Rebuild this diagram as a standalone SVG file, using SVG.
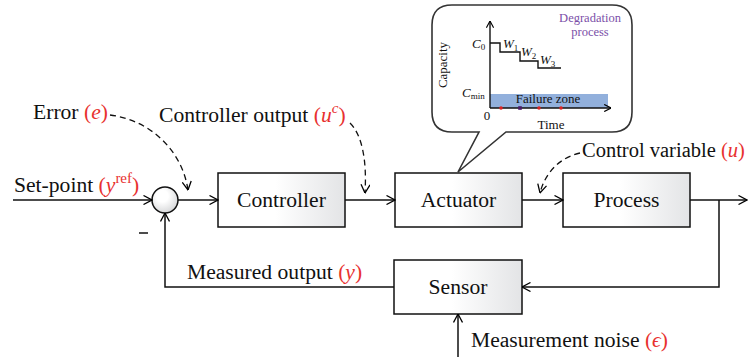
<svg xmlns="http://www.w3.org/2000/svg" width="749" height="357" viewBox="0 0 749 357">
<defs>
<linearGradient id="boxg" x1="0" y1="0" x2="1" y2="0">
<stop offset="0.45" stop-color="#ffffff"/>
<stop offset="1" stop-color="#e3e4e6"/>
</linearGradient>
<radialGradient id="circg" cx="0.4" cy="0.35" r="0.75">
<stop offset="0.3" stop-color="#ffffff"/>
<stop offset="1" stop-color="#cfd0d2"/>
</radialGradient>
<marker id="arr" viewBox="0 0 10 10" refX="9.5" refY="5" markerWidth="10" markerHeight="10" markerUnits="userSpaceOnUse" orient="auto">
<path d="M1,0.5 L9.5,5 L1,9.5" fill="none" stroke="#000" stroke-width="1.3" stroke-dasharray="none"/>
</marker>
<marker id="sarr" viewBox="0 0 10 10" refX="9.5" refY="5" markerWidth="8" markerHeight="8" markerUnits="userSpaceOnUse" orient="auto">
<path d="M1,0.5 L9.5,5 L1,9.5" fill="none" stroke="#000" stroke-width="1.4"/>
</marker>
</defs>
<style>
text{font-family:"Liberation Serif","DejaVu Serif",serif;fill:#111}
.lbl{font-size:21.6px}
.red{fill:#e8312f}
.it{font-style:italic}
.box{fill:url(#boxg);stroke:#111;stroke-width:1.5}
.ln{fill:none;stroke:#111;stroke-width:1.5;marker-end:url(#arr)}
.dash{fill:none;stroke:#111;stroke-width:1.3;stroke-dasharray:6,4;marker-end:url(#arr)}
.sm{font-size:13px}
.ax{fill:none;stroke:#111;stroke-width:1.4}
</style>

<g id="callout">
<path d="M452,5 H612 Q632,5 632,25 V112 Q632,132 612,132 H506 L458,172 L479,132 H452 Q432,132 432,112 V25 Q432,5 452,5 Z" fill="#fff" stroke="#333" stroke-width="1.6"/>
<rect x="490" y="94" width="118" height="14" fill="#92b0dc"/>
<path class="ax" d="M490,108 V21" marker-end="url(#sarr)"/>
<path class="ax" d="M490,108 H611" marker-end="url(#sarr)"/>
<path d="M490,43 H500 V52 H520 V61 H538 V68 H561" fill="none" stroke="#111" stroke-width="1.4"/>
<circle cx="501" cy="108" r="1.8" fill="#d22"/>
<rect x="518.2" y="106.2" width="3.6" height="3.6" fill="#4a1a6a"/>
<circle cx="539" cy="108" r="1.8" fill="#d22"/>
<circle cx="561" cy="108" r="1.8" fill="#d22"/>
<text class="sm" transform="translate(447,65) rotate(-90)" text-anchor="middle">Capacity</text>
<text class="sm" x="472" y="48"><tspan class="it">C</tspan><tspan font-size="9" dy="2">0</tspan></text>
<text class="sm" x="503" y="48"><tspan class="it">W</tspan><tspan font-size="9" dy="3">1</tspan></text>
<text class="sm" x="521" y="56"><tspan class="it">W</tspan><tspan font-size="9" dy="3">2</tspan></text>
<text class="sm" x="540" y="64"><tspan class="it">W</tspan><tspan font-size="9" dy="3">3</tspan></text>
<text class="sm" x="462" y="97"><tspan class="it">C</tspan><tspan font-size="9" dy="2">min</tspan></text>
<text class="sm" x="548" y="103" text-anchor="middle">Failure zone</text>
<text class="sm" x="487" y="120" text-anchor="middle">0</text>
<text class="sm" x="551" y="129" text-anchor="middle">Time</text>
<text x="590" y="22" font-size="12.5" text-anchor="middle" style="fill:#7b4fa8">Degradation</text>
<text x="590" y="36" font-size="12.5" text-anchor="middle" style="fill:#7b4fa8">process</text>
</g>

<g id="sum">
<circle cx="165" cy="200" r="13" fill="url(#circg)" stroke="#111" stroke-width="1.5"/>
<path d="M139,233 H148" stroke="#111" stroke-width="1.5"/>
</g>

<g id="controller">
<rect class="box" x="218" y="173" width="127" height="54"/>
<text class="lbl" x="281.5" y="207" text-anchor="middle">Controller</text>
</g>
<g id="actuator">
<rect class="box" x="395" y="173" width="127" height="54"/>
<text class="lbl" x="458.5" y="207" text-anchor="middle">Actuator</text>
</g>
<g id="process">
<rect class="box" x="563" y="173" width="127" height="54"/>
<text class="lbl" x="626.5" y="207" text-anchor="middle">Process</text>
</g>
<g id="sensor">
<rect class="box" x="394" y="260" width="128" height="54"/>
<text class="lbl" x="458" y="294" text-anchor="middle">Sensor</text>
</g>

<g id="connectors">
<path class="ln" d="M13,200 H152"/>
<path class="ln" d="M178,200 H218"/>
<path class="ln" d="M345,200 H395"/>
<path class="ln" d="M522,200 H563"/>
<path class="ln" d="M690,200 H747"/>
<path class="ln" d="M719,200 V287 H522"/>
<path class="ln" d="M394,287 H165 V213"/>
<path class="ln" d="M458,357 V314"/>
<path class="dash" d="M110,115 C150,120 182,150 188,190"/>
<path class="dash" d="M350,123 C362,135 367,160 365,193"/>
<path class="dash" d="M580,153 C562,157 546,170 540,193"/>
</g>

<g id="labels">
<text class="lbl" x="33" y="119">Error <tspan class="red">(<tspan class="it">e</tspan>)</tspan></text>
<text class="lbl" x="159" y="122">Controller output <tspan class="red">(<tspan class="it">u</tspan><tspan class="it" font-size="15" dy="-9">c</tspan><tspan dy="9">)</tspan></tspan></text>
<text x="582" y="157" font-size="20.5">Control variable <tspan class="red">(<tspan class="it">u</tspan>)</tspan></text>
<text class="lbl" x="14" y="192">Set-point <tspan class="red">(<tspan class="it">y</tspan><tspan font-size="15" dy="-9">ref</tspan><tspan dy="9">)</tspan></tspan></text>
<text class="lbl" x="187" y="279">Measured output <tspan class="red">(<tspan class="it">y</tspan>)</tspan></text>
<text class="lbl" x="471" y="347">Measurement noise <tspan class="red">(<tspan class="it">ϵ</tspan>)</tspan></text>
</g>
</svg>
